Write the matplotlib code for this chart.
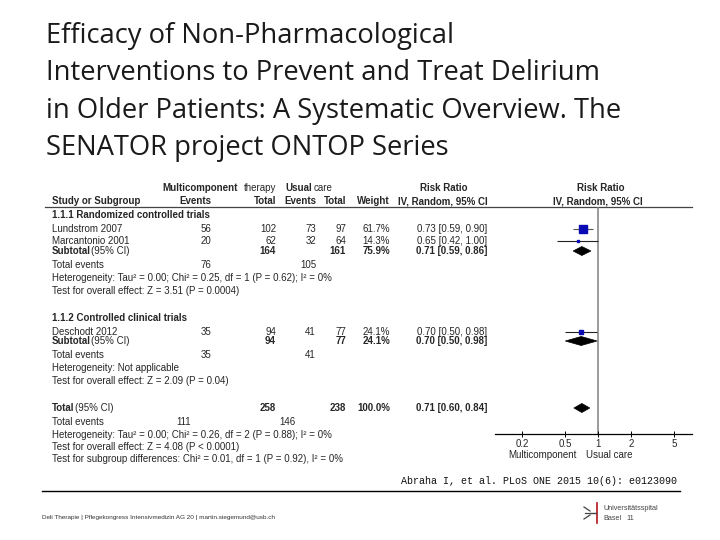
import numpy as np
import matplotlib
matplotlib.use("Agg")
import matplotlib.pyplot as plt
from matplotlib.patches import Polygon

# ---- data ----
studies = ["Lundstrom 2007", "Marcantonio 2001", "Deschodt 2012"]
study_group = [0, 0, 1]
mc_events = [56, 20, 35]
mc_total = [102, 62, 94]
uc_events = [73, 32, 41]
uc_total = [97, 64, 77]
weights = [61.7, 14.3, 24.1]
rr = [0.73, 0.65, 0.70]
rr_lo = [0.59, 0.42, 0.50]
rr_hi = [0.90, 1.00, 0.98]

groups = ["1.1.1 Randomized controlled trials", "1.1.2 Controlled clinical trials"]
sub_mc_total = [164, 94]
sub_uc_total = [161, 77]
sub_weight = [75.9, 24.1]
sub_rr = [0.71, 0.70]
sub_lo = [0.59, 0.50]
sub_hi = [0.86, 0.98]
sub_mc_events = [76, 35]
sub_uc_events = [105, 41]
sub_het = ["Heterogeneity: Tau² = 0.00; Chi² = 0.25, df = 1 (P = 0.62); I² = 0%",
           "Heterogeneity: Not applicable"]
sub_test = ["Test for overall effect: Z = 3.51 (P = 0.0004)",
            "Test for overall effect: Z = 2.09 (P = 0.04)"]

tot_mc_total, tot_uc_total, tot_weight = 258, 238, 100.0
tot_rr, tot_lo, tot_hi = 0.71, 0.60, 0.84
tot_mc_events, tot_uc_events = 111, 146
tot_het = "Heterogeneity: Tau² = 0.00; Chi² = 0.26, df = 2 (P = 0.88); I² = 0%"
tot_test = "Test for overall effect: Z = 4.08 (P < 0.0001)"
tot_sub = "Test for subgroup differences: Chi² = 0.01, df = 1 (P = 0.92), I² = 0%"

ticks = [0.2, 0.5, 1, 2, 5]
tick_labels = ["0.2", "0.5", "1", "2", "5"]

title_lines = ["Efficacy of Non-Pharmacological",
               "Interventions to Prevent and Treat Delirium",
               "in Older Patients: A Systematic Overview. The",
               "SENATOR project ONTOP Series"]
citation = "Abraha I, et al. PLoS ONE 2015 10(6): e0123090"
footer = "Deli Therapie | Pflegekongress Intensivmedizin AG 20 | martin.siegemund@usb.ch"

# ---- layout (pixel rows) ----
Y_GRP = [215, 318]
Y_STUDY = [229, 241, 332]
Y_SUB = [251, 341]
Y_EV = [265, 355]
Y_HET = [278, 368]
Y_TEST = [291, 381]
Y_TOT, Y_TEV, Y_THET, Y_TTEST, Y_TSUB = 408, 422, 435, 447, 459
X_STUDY, X_MCE, X_MCT, X_UCE, X_UCT, X_W, X_RR = 52, 211, 276, 316, 346, 390, 487
AX_L, AX_R, AX_TOP, AX_BOT = 495, 692, 207, 434

FS = 7.0
TXT = "#262626"
SANS = "Liberation Sans"

fig = plt.figure(figsize=(7.2, 5.4), dpi=100)
bg = fig.add_axes([0, 0, 1, 1])
bg.set_xlim(0, 720); bg.set_ylim(540, 0); bg.axis("off")

def t(x, y, s, ha="left", bold=False, size=FS, **kw):
    bg.text(x, y, s, ha=ha, va="center", fontsize=size, family=SANS,
            fontweight="bold" if bold else "normal", color=kw.pop("color", TXT), **kw)

# title
for i, line in enumerate(title_lines):
    bg.text(46, 36 + 37.5 * i, line, ha="left", va="center", fontsize=19.7,
            family="Open Sans", color="#1a1a1a")

# headers
t(162, 188, "Multicomponent", bold=True)
t(244, 188, "therapy")
t(285, 188, "Usual", bold=True)
t(314, 188, "care")
t(444, 188, "Risk Ratio", ha="center", bold=True)
t(601, 188, "Risk Ratio", ha="center", bold=True)
t(X_STUDY, 201, "Study or Subgroup", bold=True)
t(X_MCE, 201, "Events", ha="right", bold=True)
t(X_MCT, 201, "Total", ha="right", bold=True)
t(X_UCE, 201, "Events", ha="right", bold=True)
t(X_UCT, 201, "Total", ha="right", bold=True)
t(X_W, 201, "Weight", ha="right", bold=True)
t(X_RR + 1, 201, "IV, Random, 95% CI", ha="right", bold=True)
t(598, 201, "IV, Random, 95% CI", ha="center", bold=True)
bg.plot([45, AX_R], [AX_TOP, AX_TOP], color="#444444", lw=0.9)

# forest axes
fa = fig.add_axes([AX_L / 720, 1 - AX_BOT / 540, (AX_R - AX_L) / 720, (AX_BOT - AX_TOP) / 540])
fa.set_xscale("log")
fa.set_xlim(0.113, 7.3)
fa.set_ylim(AX_BOT, AX_TOP)
fa.patch.set_alpha(0)
for s in ["top", "left", "right"]:
    fa.spines[s].set_visible(False)
fa.spines["bottom"].set_linewidth(0.9)
fa.set_yticks([])
fa.set_xticks(ticks)
fa.set_xticklabels(tick_labels, fontsize=FS, family=SANS, color=TXT)
fa.xaxis.set_minor_locator(matplotlib.ticker.NullLocator())
fa.tick_params(axis="x", direction="inout", length=5, width=0.7, pad=1)
fa.axvline(1, color="#808080", lw=1.1, zorder=1)

def diamond(x, lo, hi, y, h=4.5):
    fa.add_patch(Polygon([[lo, y], [x, y - h], [hi, y], [x, y + h]],
                         closed=True, fc="black", ec="black", lw=0.5, zorder=3))

# study rows
for i, name in enumerate(studies):
    y = Y_STUDY[i]
    t(X_STUDY, y, name)
    t(X_MCE, y, str(mc_events[i]), ha="right")
    t(X_MCT, y, str(mc_total[i]), ha="right")
    t(X_UCE, y, str(uc_events[i]), ha="right")
    t(X_UCT, y, str(uc_total[i]), ha="right")
    t(X_W, y, f"{weights[i]:.1f}%", ha="right")
    t(X_RR, y, f"{rr[i]:.2f} [{rr_lo[i]:.2f}, {rr_hi[i]:.2f}]", ha="right")
    fa.plot([rr_lo[i], rr_hi[i]], [y, y], color="#555555" if weights[i] > 50 else "#222222",
            lw=0.8, zorder=2, solid_capstyle="butt")
    fa.plot([rr[i]], [y], marker="s", ms=0.145 * weights[i] * 0.72, color="#0a0ab4",
            mec="#0a0ab4", zorder=4)

# subgroup blocks
for g, name in enumerate(groups):
    t(X_STUDY, Y_GRP[g], name, bold=True)
    ys = Y_SUB[g]
    t(X_STUDY, ys, "Subtotal", bold=True)
    t(X_STUDY + 39, ys, "(95% CI)")
    t(X_MCT, ys, str(sub_mc_total[g]), ha="right", bold=True)
    t(X_UCT, ys, str(sub_uc_total[g]), ha="right", bold=True)
    t(X_W, ys, f"{sub_weight[g]:.1f}%", ha="right", bold=True)
    t(X_RR, ys, f"{sub_rr[g]:.2f} [{sub_lo[g]:.2f}, {sub_hi[g]:.2f}]", ha="right", bold=True)
    diamond(sub_rr[g], sub_lo[g], sub_hi[g], ys)
    t(X_STUDY, Y_EV[g], "Total events")
    t(X_MCE, Y_EV[g], str(sub_mc_events[g]), ha="right")
    t(X_UCE, Y_EV[g], str(sub_uc_events[g]), ha="right")
    t(X_STUDY, Y_HET[g], sub_het[g])
    t(X_STUDY, Y_TEST[g], sub_test[g])

# overall
t(X_STUDY, Y_TOT, "Total", bold=True)
t(X_STUDY + 23, Y_TOT, "(95% CI)")
t(X_MCT, Y_TOT, str(tot_mc_total), ha="right", bold=True)
t(X_UCT, Y_TOT, str(tot_uc_total), ha="right", bold=True)
t(X_W, Y_TOT, f"{tot_weight:.1f}%", ha="right", bold=True)
t(X_RR, Y_TOT, f"{tot_rr:.2f} [{tot_lo:.2f}, {tot_hi:.2f}]", ha="right", bold=True)
diamond(tot_rr, tot_lo, tot_hi, Y_TOT)
t(X_STUDY, Y_TEV, "Total events")
t(X_MCE - 20, Y_TEV, str(tot_mc_events), ha="right")
t(X_UCE - 20, Y_TEV, str(tot_uc_events), ha="right")
t(X_STUDY, Y_THET, tot_het)
t(X_STUDY, Y_TTEST, tot_test)
t(X_STUDY, Y_TSUB, tot_sub)

t(577, 455, "Multicomponent", ha="right")
t(586, 455, "Usual care", ha="left")

# citation and footer
bg.text(677, 481, citation, ha="right", va="center", fontsize=7.2,
        family="Liberation Mono", color="#111111")
bg.plot([42, 680], [491, 491], color="black", lw=1.0)
t(42, 517, footer, size=4.6, color="#333333")

# logo
bg.plot([597, 597], [503, 523], color="#b5121b", lw=1.2)
bg.plot([591, 596], [513, 513], color="#444444", lw=1.0)
bg.plot([584, 590], [507, 511], color="#444444", lw=0.9)
bg.plot([584, 590], [519, 515], color="#444444", lw=0.9)
bg.plot([585, 590], [513, 513], color="#444444", lw=0.9)
t(603, 508, "Universitätsspital", size=5.2, color="#444444")
t(603, 518, "Basel", size=5.2, color="#444444")
t(626, 518, "11", size=5.2, color="#444444")

fig.savefig("out.png", dpi=100)
